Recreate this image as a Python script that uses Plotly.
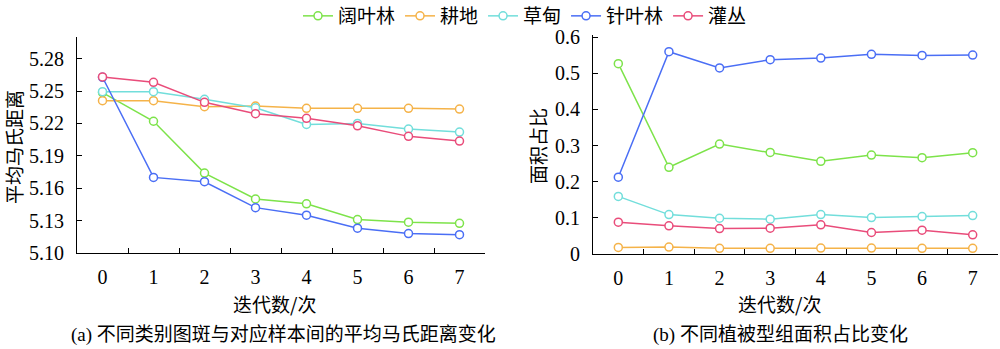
import plotly.graph_objects as go

# Iterations (category labels on both x axes)
iterations = ["0", "1", "2", "3", "4", "5", "6", "7"]

# Series names and colours
names = ["阔叶林", "耕地", "草甸", "针叶林", "灌丛"]
colors = ["#7de34a", "#f5b349", "#72dedb", "#4a6ef5", "#e94c7a"]

# (a) mean Mahalanobis distance between patches and samples
dist_broadleaf = [5.2485, 5.222, 5.174, 5.150, 5.1455, 5.131, 5.1285, 5.1275]
dist_cropland = [5.241, 5.241, 5.2355, 5.236, 5.234, 5.234, 5.234, 5.2333]
dist_meadow = [5.2494, 5.2494, 5.2423, 5.2345, 5.219, 5.220, 5.2148, 5.212]
dist_conifer = [5.2627, 5.170, 5.166, 5.142, 5.135, 5.123, 5.118, 5.117]
dist_shrub = [5.263, 5.258, 5.2395, 5.229, 5.2247, 5.2178, 5.208, 5.2036]

# (b) area proportion of each vegetation group
area_broadleaf = [0.5267, 0.240, 0.3041, 0.2812, 0.2565, 0.2739, 0.2666, 0.2803]
area_cropland = [0.0183, 0.0192, 0.0156, 0.0156, 0.0165, 0.0165, 0.0156, 0.0156]
area_meadow = [0.1594, 0.109, 0.0989, 0.0962, 0.109, 0.1008, 0.1035, 0.1063]
area_conifer = [0.2125, 0.5597, 0.5148, 0.5377, 0.5423, 0.5524, 0.5496, 0.5505]
area_shrub = [0.0879, 0.0779, 0.0705, 0.0714, 0.0806, 0.0595, 0.066, 0.0531]

left_ticks = [5.10, 5.13, 5.16, 5.19, 5.22, 5.25, 5.28]
right_ticks = [0, 0.1, 0.2, 0.3, 0.4, 0.5, 0.6]

dist_series = [dist_broadleaf, dist_cropland, dist_meadow, dist_conifer, dist_shrub]
area_series = [area_broadleaf, area_cropland, area_meadow, area_conifer, area_shrub]

W, H = 1000, 349
SERIF = "Liberation Serif, Noto Sans CJK SC, serif"
CJK = "Noto Sans CJK SC, sans-serif"


def px_x(x):
    return x / W


def px_y(y):
    return 1 - y / H


fig = go.Figure()

for name, color, ys in zip(names, colors, dist_series):
    fig.add_trace(go.Scatter(
        x=iterations, y=ys, name=name, mode="lines+markers",
        line=dict(color=color, width=1.5),
        marker=dict(symbol="circle", size=8, color="white",
                    line=dict(color=color, width=1.5)),
        xaxis="x", yaxis="y", legendgroup=name,
    ))

for name, color, ys in zip(names, colors, area_series):
    fig.add_trace(go.Scatter(
        x=iterations, y=ys, name=name, mode="lines+markers",
        line=dict(color=color, width=1.5),
        marker=dict(symbol="circle", size=8, color="white",
                    line=dict(color=color, width=1.5)),
        xaxis="x2", yaxis="y2", legendgroup=name, showlegend=False,
    ))

axis_common = dict(
    showgrid=False, zeroline=False, showline=True, linecolor="black",
    linewidth=1, ticks="inside", ticklen=5, tickcolor="black", tickwidth=1,
    tickfont=dict(family=SERIF, size=20, color="black"),
    automargin=False,
)

fig.update_layout(
    width=W, height=H,
    margin=dict(l=0, r=0, t=0, b=0, autoexpand=False),
    paper_bgcolor="white", plot_bgcolor="white",
    xaxis=dict(domain=[px_x(77), px_x(485)], anchor="y", type="category",
               range=[-0.5, 7.5], tickson="boundaries",
               ticklabelstandoff=6, **axis_common),
    yaxis=dict(domain=[px_y(253), px_y(37)], anchor="x",
               range=[5.10, 5.30], tickvals=left_ticks,
               ticktext=[f"{v:.2f}" for v in left_ticks],
               ticklabelstandoff=8, **axis_common),
    xaxis2=dict(domain=[px_x(593), px_x(998)], anchor="y2", type="category",
                range=[-0.5, 7.5], tickson="boundaries",
                ticklabelstandoff=6, **axis_common),
    yaxis2=dict(domain=[px_y(254), px_y(35)], anchor="x2",
                range=[0, 0.606], tickvals=right_ticks,
                ticktext=["0" if v == 0 else f"{v:.1f}" for v in right_ticks],
                ticklabelstandoff=8, **axis_common),
    legend=dict(orientation="h", x=px_x(298), xanchor="left",
                y=px_y(-3), yanchor="top",
                font=dict(family=CJK, size=19, color="black"),
                bgcolor="rgba(0,0,0,0)", itemwidth=30),
    showlegend=True,
)

annotations = [
    dict(text="平均马氏距离", x=px_x(13), y=px_y(147), textangle=-90,
         font=dict(family=CJK, size=19)),
    dict(text="面积占比", x=px_x(537), y=px_y(146), textangle=-90,
         font=dict(family=CJK, size=19)),
    dict(text="迭代数/次", x=px_x(274), y=px_y(303),
         font=dict(family=CJK, size=19)),
    dict(text="迭代数/次", x=px_x(779), y=px_y(303),
         font=dict(family=CJK, size=19)),
    dict(text="(a) 不同类别图斑与对应样本间的平均马氏距离变化", x=px_x(283), y=px_y(335),
         font=dict(family=SERIF, size=19)),
    dict(text="(b) 不同植被型组面积占比变化", x=px_x(780), y=px_y(335),
         font=dict(family=SERIF, size=19)),
]
for a in annotations:
    a.update(xref="paper", yref="paper", showarrow=False,
             xanchor="center", yanchor="middle")
    a["font"]["color"] = "black"
fig.update_layout(annotations=annotations)

fig.write_html("out.html")
